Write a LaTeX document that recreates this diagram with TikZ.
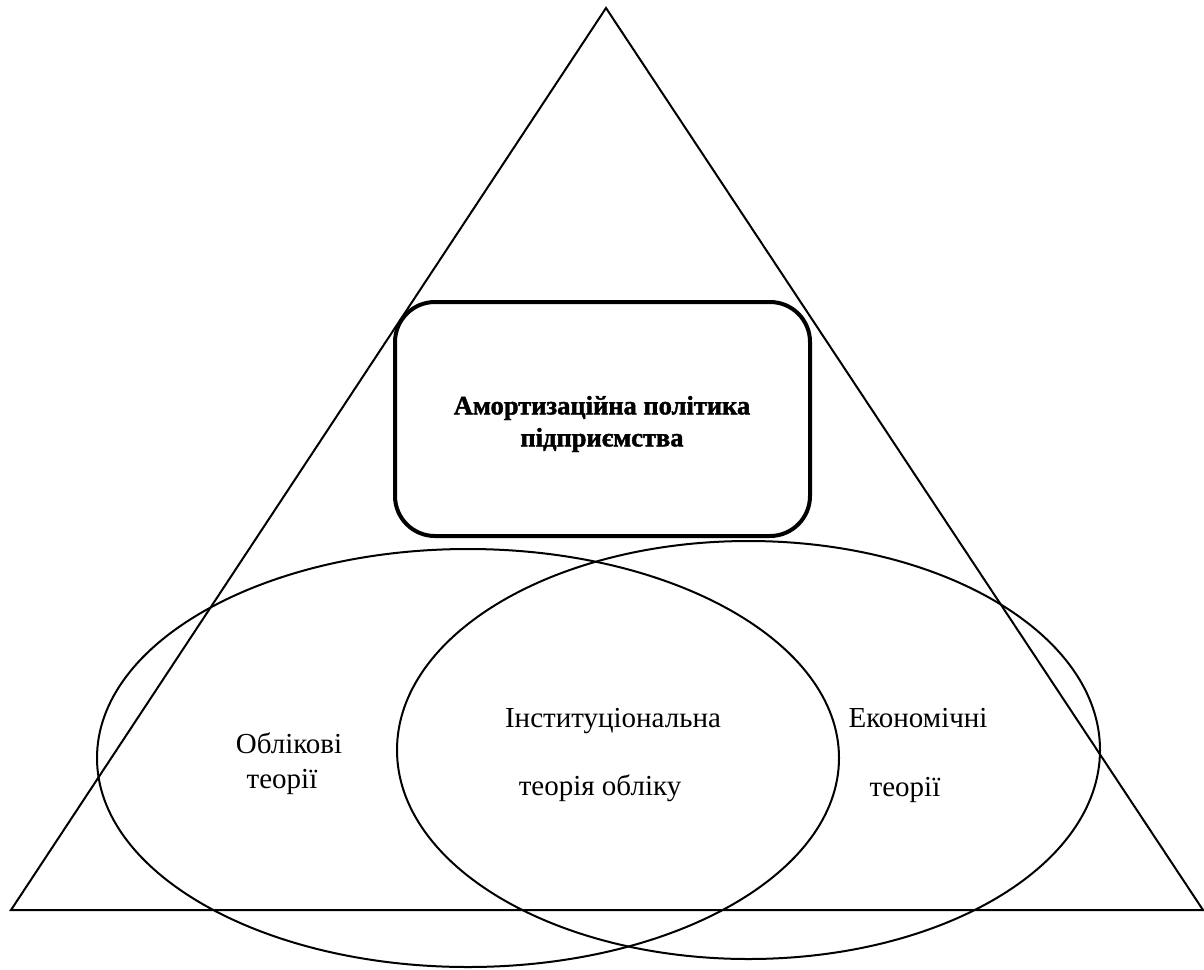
\documentclass[tikz,border=0pt]{standalone}
\usepackage{fontspec}
\setmainfont{Liberation Serif}
\newfontfamily\titlefont[FakeBold=1.6]{Liberation Serif Bold}
\usetikzlibrary{shapes.geometric}
\tikzset{
  outline/.style={draw=black, line width=2pt},
  theory/.style={outline, ellipse, inner sep=0pt, minimum height=418pt},
  policybox/.style={draw=black, line width=4pt, fill=white, rounded corners=40pt,
    minimum width=415pt, minimum height=234pt},
  titletext/.style={align=center, inner sep=0pt,
    font=\fontsize{26.5}{32}\titlefont},
  lbl/.style={anchor=base, inner sep=0pt, font=\fontsize{29}{35}\selectfont}
}
\begin{document}
\begin{tikzpicture}[x=1pt,y=-1pt]
\useasboundingbox (0,0) rectangle (1204,969);
\coordinate (apex) at (606,8);
\coordinate (br) at (1203,910);
\coordinate (bl) at (11,910);
\draw[outline, line join=miter] (apex) -- (br) -- (bl) -- cycle;
\node[theory, minimum width=742pt] (acc) at (468,758) {};
\node[theory, minimum width=703pt] (eco) at (748.5,750) {};
\node[policybox] (policy) at (602.5,419) {};
\node[titletext] (title) at (602,424) {Амортизаційна політика\\підприємства};
\node[lbl] (acc1) at (289,753) {Облікові};
\node[lbl] (acc2) at (282,788) {теорії};
\node[lbl] (inst1) at (613,727) {Інституціональна};
\node[lbl] (inst2) at (600,795) {теорія обліку};
\node[lbl] (eco1) at (918,727) {Економічні};
\node[lbl] (eco2) at (905,796) {теорії};
\end{tikzpicture}
\end{document}
